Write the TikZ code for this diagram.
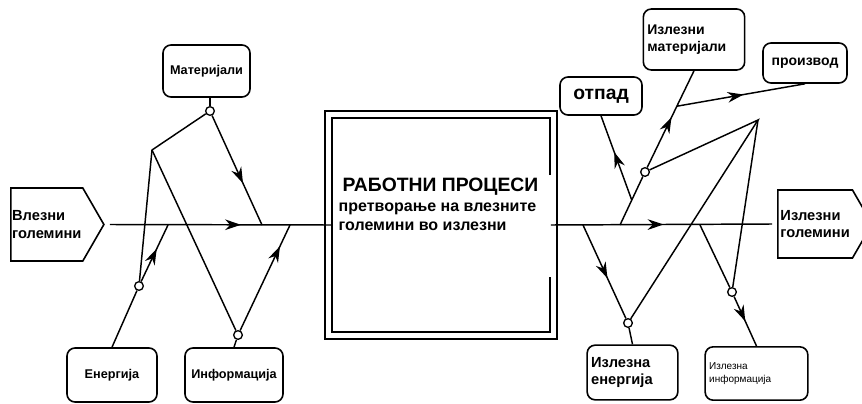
\documentclass[tikz,border=0pt]{standalone}
\usepackage{fontspec}
\setmainfont{Liberation Sans}
\usetikzlibrary{arrows.meta,calc,decorations.markings,shapes.symbols}
\tikzset{every picture/.style={x=0.75pt,y=-0.75pt,line width=1.1pt},
  box/.style={draw,rounded corners=6pt,line width=1.2pt,inner sep=3pt,font=\bfseries},
  quantity/.style={draw,signal,signal to=east,signal pointer angle=120,line width=1.2pt,
    align=left,inner sep=2pt,font=\bfseries\fontsize{11}{13}\selectfont},
  joint/.style={draw,circle,fill=white,line width=1pt,inner sep=0pt,minimum size=6.5pt},
  midarrow/.style={postaction={decorate},decoration={markings,
    mark=at position #1 with {\arrow{Stealth[length=12pt,width=8pt]}}}},
  midarrow/.default=0.5}

\begin{document}
\begin{tikzpicture}
  \useasboundingbox (0,0) rectangle (862,403);
  \node[quantity,anchor=west,minimum width=58pt,minimum height=54.75pt,inner xsep=1pt] (vin) at (10,224.5) {Влезни\\големини};
  \node[quantity,anchor=west,minimum width=63.5pt,minimum height=51pt] (vout) at (777,224) {Излезни\\големини};
  \node[box,minimum width=65.25pt,minimum height=39pt,font=\bfseries\fontsize{9.5}{11}\selectfont] (mat) at (206.5,71) {Материјали};
  \node[box,minimum width=67.5pt,minimum height=40.5pt,font=\bfseries\fontsize{9.5}{11}\selectfont] (ener) at (112,375) {Енергија};
  \node[box,minimum width=73.5pt,minimum height=40.5pt,font=\bfseries\fontsize{9.5}{11}\selectfont] (info) at (234,375) {Информација};
  \node[box,text width=70pt,minimum height=45.75pt,align=left,font=\bfseries\fontsize{10.5}{13}\selectfont] (omat) at (694,39.5) {Излезни\\материјали};
  \node[box,minimum width=63pt,minimum height=30pt,font=\bfseries\fontsize{10.5}{12}\selectfont] (prod) at (805,63) {производ};
  \node[box,minimum width=61.5pt,minimum height=28.5pt,font=\bfseries\fontsize{14.5}{16}\selectfont] (waste) at (601,96) {отпад};
  \node[box,text width=62pt,minimum height=41pt,align=left,font=\bfseries\fontsize{11}{13}\selectfont] (oener) at (632.5,372.5) {Излезна\\енергија};
  \node[box,text width=71pt,minimum height=40pt,align=left,font=\fontsize{7.5}{10}\selectfont] (oinfo) at (756.5,373.5) {Излезна\\информација};

  \node[draw,line width=1.2pt,minimum width=174pt,minimum height=171pt] (proc) at (441,225) {};
  \draw ([shift={(-8,65)}]proc.north east) |- ([shift={(8,8)}]proc.north west)
    |- ([shift={(-8,-8)}]proc.south east) -- ([shift={(-8,-63)}]proc.south east);
  \node[anchor=west,inner sep=0pt,font=\bfseries\fontsize{14.5}{16}\selectfont] (title) at (342,187) {РАБОТНИ ПРОЦЕСИ};
  \node[anchor=north west,inner sep=0pt,align=left,font=\bfseries\fontsize{12}{14.5}\selectfont] (desc) at (338,202) {претворање на влезните\\големини во излезни};

  \node[joint] (jm) at (210,111) {};
  \node[joint] (je) at (139,286) {};
  \node[joint] (ji) at (238,335) {};
  \node[joint] (jo) at (645,172) {};
  \node[joint] (jq) at (628,323) {};
  \node[joint] (jr) at (732,292) {};
  \coordinate (top) at (152,150);
  \coordinate (me) at (262,225);
  \coordinate (ee) at (168,225);
  \coordinate (ie) at (290,225);
  \coordinate (apex) at (758,120);
  \coordinate (r1) at (583,225);
  \coordinate (r2) at (620,225);
  \coordinate (r3) at (700,225);
  \coordinate (fork) at ($(jo)!0.65!(omat.south)$);
  \coordinate (wst) at ($(r2)!0.47!(jo)$);

  \draw[midarrow=0.59] ([shift={(5,0)}]vin.east) -- ([shift={(8,0)}]proc.west);
  \draw[midarrow=0.51] ([shift={(-7,0)}]proc.east) -- ([shift={(-5,0)}]vout.west);

  \draw (mat.south -| jm) -- (jm);
  \draw[midarrow=0.62] (jm) -- (me);
  \draw (jm) -- (top) -- (je);
  \draw (top) -- (ji);
  \draw (ener.north) -- (je);
  \draw[midarrow=0.58] (je) -- (ee);
  \draw (info.north) -- (ji);
  \draw[midarrow=0.8] (ji) -- (ie);

  \draw (r2) -- (jo);
  \draw[midarrow=0.52] (jo) -- (omat.south);
  \draw[midarrow=0.57] (wst) -- (waste.south);
  \draw[midarrow=0.52] (fork) -- (prod.south);
  \draw (jo) -- (apex) -- (jq);
  \draw (apex) -- (jr);
  \draw[midarrow=0.57] (r1) -- (jq);
  \draw (jq) -- (oener.north);
  \draw (r3) -- (jr);
  \draw[midarrow=0.5] (jr) -- (oinfo.north);
\end{tikzpicture}
\end{document}
